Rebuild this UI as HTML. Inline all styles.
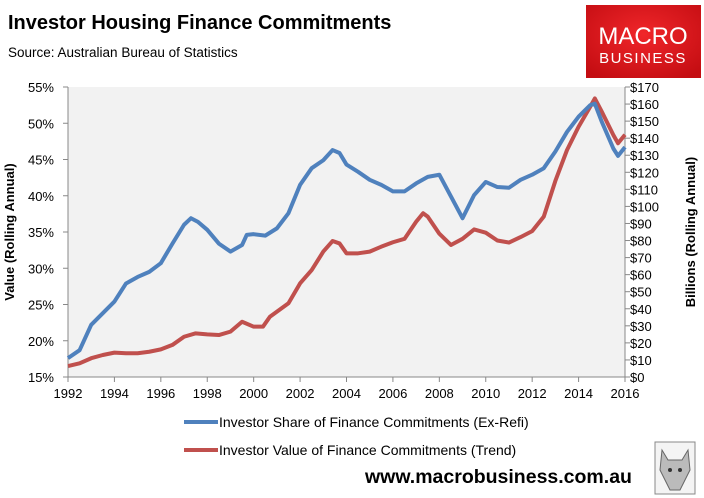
<!DOCTYPE html>
<html><head><meta charset="utf-8"><style>
body{margin:0;width:704px;height:498px;background:#fff;overflow:hidden;font-family:"Liberation Sans",sans-serif}
svg{display:block}
</style></head><body>
<svg id="c" width="704" height="498" xmlns="http://www.w3.org/2000/svg">
<text x="8" y="29" font-size="20" font-weight="bold" fill="#000">Investor Housing Finance Commitments</text>
<text x="8" y="57" font-size="13.5" fill="#000">Source: Australian Bureau of Statistics</text>
<g>
<defs><radialGradient id="rg" cx="50%" cy="40%" r="70%"><stop offset="0" stop-color="#f0262a"/><stop offset="1" stop-color="#c40d12"/></radialGradient></defs>
<rect x="586" y="5" width="115" height="73" fill="url(#rg)"/>
<text x="643" y="44" font-size="24" fill="#fff" text-anchor="middle">MACRO</text>
<text x="643" y="63" font-size="15" fill="#fff" text-anchor="middle" letter-spacing="1.5">BUSINESS</text>
</g>
<rect x="68" y="87" width="557" height="290" fill="#f2f2f2"/>
<g id="axes"></g>
<g id="series"></g>
<text transform="translate(14,232) rotate(-90)" font-size="13" font-weight="bold" text-anchor="middle">Value (Rolling Annual)</text>
<text transform="translate(695,232) rotate(-90)" font-size="13" font-weight="bold" text-anchor="middle">Billions (Rolling Annual)</text>
<g>
<line x1="184" y1="422" x2="218" y2="422" stroke="#4f81bd" stroke-width="4"/>
<text x="219" y="427" font-size="14">Investor Share of Finance Commitments (Ex-Refi)</text>
<line x1="184" y1="450" x2="218" y2="450" stroke="#c0504d" stroke-width="4"/>
<text x="219" y="455" font-size="14">Investor Value of Finance Commitments (Trend)</text>
</g>
<text x="365" y="483" font-size="19.5" font-weight="bold">www.macrobusiness.com.au</text>
<g>
<rect x="655" y="442" width="40" height="52" fill="#f4f4f4" stroke="#888" stroke-width="1"/>
<path d="M662 450 L668 460 L682 460 L688 450 L690 470 L680 490 L670 490 L660 470 Z" fill="#bbb" stroke="#666" stroke-width="1"/>
<circle cx="670" cy="470" r="2" fill="#333"/><circle cx="680" cy="470" r="2" fill="#333"/>
</g>
</svg>
<script>
const years=[1992,1992.5,1993,1993.5,1994,1994.5,1995,1995.5,1996,1996.5,1997,1997.3,1997.6,1998,1998.5,1999,1999.5,1999.7,2000,2000.5,2001,2001.5,2002,2002.5,2003,2003.4,2003.7,2004,2004.5,2005,2005.5,2006,2006.5,2007,2007.5,2008,2008.5,2009,2009.5,2010,2010.5,2011,2011.5,2012,2012.5,2013,2013.5,2014,2014.5,2014.7,2015,2015.5,2015.7,2016];
const shareValues=[17.6,18.7,22.2,23.8,25.4,27.9,28.8,29.5,30.7,33.4,36,36.9,36.4,35.3,33.4,32.3,33.2,34.6,34.7,34.5,35.5,37.6,41.5,43.8,44.9,46.3,45.9,44.3,43.3,42.2,41.5,40.6,40.6,41.7,42.6,42.9,39.9,36.9,40.1,41.9,41.2,41.1,42.2,42.9,43.8,46.1,48.8,50.9,52.5,52.7,50.2,46.5,45.5,46.7];
const valueYears=[1992,1992.5,1993,1993.5,1994,1994.5,1995,1995.5,1996,1996.5,1997,1997.5,1998,1998.5,1999,1999.5,2000,2000.4,2000.7,2001.5,2002,2002.5,2003,2003.4,2003.7,2004,2004.5,2005,2005.5,2006,2006.5,2007,2007.3,2007.5,2008,2008.5,2009,2009.5,2010,2010.5,2011,2011.5,2012,2012.5,2013,2013.5,2014,2014.5,2014.7,2015,2015.5,2015.7,2016];
const valueBillions=[6.4,8,11,12.9,14.3,13.9,13.9,14.8,16.2,18.8,23.6,25.6,25,24.6,26.6,32.4,29.5,29.5,35.3,43.2,54.9,62.7,73.5,79.7,78.3,72.5,72.5,73.5,76.4,79,81,91,96,94,84,77.4,81,86.5,84.6,80,78.8,82,85.5,94,115,133,146.7,158.4,163.3,155.5,141.8,137,142];
const xTicks=[1992,1994,1996,1998,2000,2002,2004,2006,2008,2010,2012,2014,2016];
const leftTicks=[15,20,25,30,35,40,45,50,55];
const rightTicks=[0,10,20,30,40,50,60,70,80,90,100,110,120,130,140,150,160,170];
const X0=68,X1=625,Y0=377,Y1=87;
const xs=y=>X0+(y-1992)/(2016-1992)*(X1-X0);
const yl=v=>Y0-(v-15)/40*(Y0-Y1);
const yr=v=>Y0-v/170*(Y0-Y1);
const NS='http://www.w3.org/2000/svg';
function mk(t,a,p){const e=document.createElementNS(NS,t);for(const k in a)e.setAttribute(k,a[k]);p.appendChild(e);return e;}
const ax=document.getElementById('axes');
let l=mk('line',{x1:X0,y1:Y1,x2:X0,y2:Y0,stroke:'#888'},ax);


l=mk('line',{x1:X1,y1:Y1,x2:X1,y2:Y0,stroke:'#888'},ax);


l=mk('line',{x1:X0,y1:Y0,x2:X1,y2:Y0,stroke:'#888'},ax);


xTicks.forEach(t=>{const x=xs(t);
 mk('line',{x1:x,y1:Y0,x2:x,y2:Y0+5,stroke:'#888'},ax);
 const e=mk('text',{x:x,y:Y0+21,'font-size':13,'text-anchor':'middle'},ax);e.textContent=t;
 
 });
leftTicks.forEach(t=>{const y=yl(t);
 mk('line',{x1:X0-5,y1:y,x2:X0,y2:y,stroke:'#888'},ax);
 const e=mk('text',{x:X0-14,y:y+5,'font-size':13,'text-anchor':'end'},ax);e.textContent=t+'%';
 
 });
rightTicks.forEach(t=>{const y=yr(t);
 mk('line',{x1:X1,y1:y,x2:X1+5,y2:y,stroke:'#888'},ax);
 const e=mk('text',{x:X1+5,y:y+5,'font-size':13},ax);e.textContent='$'+t;
 
 });
const sg=document.getElementById('series');
let p=mk('polyline',{points:valueYears.map((y,i)=>xs(y)+','+yr(valueBillions[i])).join(' '),fill:'none',stroke:'#c0504d','stroke-width':4,'stroke-linejoin':'round'},sg);


p=mk('polyline',{points:years.map((y,i)=>xs(y)+','+yl(shareValues[i])).join(' '),fill:'none',stroke:'#4f81bd','stroke-width':4,'stroke-linejoin':'round'},sg);


</script>
</body></html>
